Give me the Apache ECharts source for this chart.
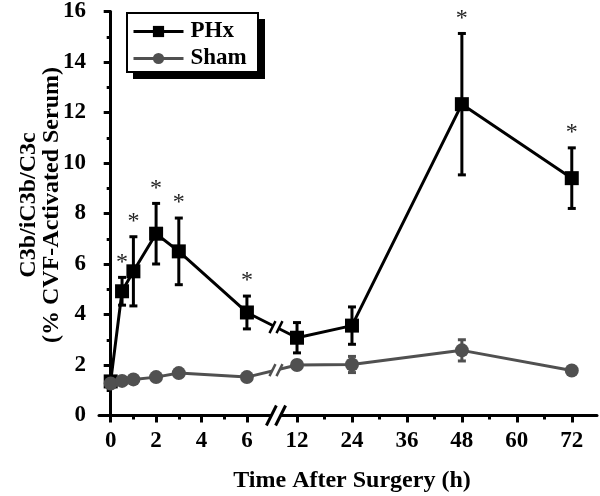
<!DOCTYPE html>
<html><head><meta charset="utf-8">
<script src="https://cdn.jsdelivr.net/npm/echarts@6/dist/echarts.min.js"></script>
<style>html,body{margin:0;padding:0;background:#fff}#c{width:600px;height:496px}</style>
</head><body><div id="c"></div>
<script>
// ---- data (hours after surgery) ----
const hours     = [0, 0.5, 1, 2, 3, 6, 12, 24, 48, 72];
const phxMean   = [1.35, 4.92, 5.71, 7.2, 6.5, 4.08, 3.08, 3.56, 12.33, 9.4];
const phxErr    = [0.1, 0.55, 1.37, 1.2, 1.32, 0.65, 0.6, 0.74, 2.8, 1.2];
const phxStar   = [0, 1, 1, 1, 1, 1, 0, 0, 1, 1];
const shamMean  = [1.27, 1.37, 1.43, 1.52, 1.68, 1.52, 2.0, 2.02, 2.58, 1.78];
const shamErr   = [0.08, 0.08, 0.08, 0.08, 0.08, 0.08, 0.15, 0.32, 0.42, 0.1];
const xTickHours  = [0, 2, 4, 6, 12, 24, 36, 48, 60, 72];
const xMinorHours = [1, 3, 5, 18, 30, 42, 54, 66];
const yTicks = [0, 2, 4, 6, 8, 10, 12, 14, 16];
const seriesNames = ['PHx', 'Sham'];
const breakHour = 7.28;

// ---- broken-axis scale: 0-6 h stretched, 12-72 h compressed ----
function pos(h) { return h <= breakHour ? h : 8.207 + (h - 12) * 0.2017; }

const FONT = "'Liberation Serif','Times New Roman',serif";
const BLACK = '#000000', GRAY = '#505050';

const chart = echarts.init(document.getElementById('c'));

function errData(mean, err) { return hours.map((h, i) => [pos(h), mean[i] - err[i], mean[i] + err[i]]); }
function lineData(mean) { return hours.map((h, i) => [pos(h), mean[i]]); }
function errRender(color) {
  return function (params, api) {
    const x = api.value(0), lo = api.value(1), hi = api.value(2);
    const a = api.coord([x, hi]), b = api.coord([x, lo]);
    const cw = 4, st = { stroke: color, lineWidth: 3 };
    return { type: 'group', children: [
      { type: 'line', shape: { x1: a[0], y1: a[1], x2: b[0], y2: b[1] }, style: st },
      { type: 'line', shape: { x1: a[0] - cw, y1: a[1], x2: a[0] + cw, y2: a[1] }, style: st },
      { type: 'line', shape: { x1: b[0] - cw, y1: b[1], x2: b[0] + cw, y2: b[1] }, style: st }
    ]};
  };
}
const starData = hours.map((h, i) => [pos(h), phxMean[i] + phxErr[i]]).filter((d, i) => phxStar[i]);

const tickPos = xTickHours.map(pos);
const minorPos = xMinorHours.map(pos);

chart.setOption({
  animation: false,
  backgroundColor: '#fff',
  grid: { left: 99, right: 3, top: 11.5, bottom: 80.5 },
  legend: {
    data: seriesNames, z: 10,
    orient: 'vertical', left: 132, top: 20,
    padding: 0, itemGap: 4, itemWidth: 50, itemHeight: 14,
    lineStyle: { width: 3 },
    textStyle: { fontFamily: FONT, fontWeight: 'bold', fontSize: 23, color: '#000', padding: [0, 0, 0, 2] }
  },
  xAxis: [{
    type: 'value', min: -0.515, max: 21.42,
    axisLine: { lineStyle: { color: '#000', width: 3 } },
    splitLine: { show: false },
    axisTick: { customValues: tickPos, length: 7, lineStyle: { color: '#000', width: 3 } },
    axisLabel: {
      customValues: tickPos, margin: 14,
      fontFamily: FONT, fontWeight: 'bold', fontSize: 23, color: '#000',
      formatter: v => { const k = tickPos.findIndex(p => Math.abs(p - v) < 1e-6); return k >= 0 ? String(xTickHours[k]) : ''; }
    }
  }, {
    type: 'value', min: -0.515, max: 21.42, position: 'bottom',
    axisLine: { show: false }, splitLine: { show: false }, axisLabel: { show: false },
    axisTick: { customValues: minorPos, length: 4, lineStyle: { color: '#000', width: 3 } }
  }],
  yAxis: {
    type: 'value', min: 0, max: 16, interval: 2,
    axisLine: { show: true, lineStyle: { color: '#000', width: 3 } },
    splitLine: { show: false },
    axisTick: { show: true, length: 7, lineStyle: { color: '#000', width: 3 } },
    minorTick: { show: true, splitNumber: 2, length: 4, lineStyle: { color: '#000', width: 3 } },
    axisLabel: { margin: 13, fontFamily: FONT, fontWeight: 'bold', fontSize: 23, color: '#000',
      formatter: v => yTicks.includes(v) ? String(v) : '' }
  },
  series: [
    { name: 'PHx err', type: 'custom', renderItem: errRender(BLACK), data: errData(phxMean, phxErr),
      encode: { x: 0, y: [1, 2] }, z: 2, silent: true },
    { name: seriesNames[0], type: 'line', data: lineData(phxMean), symbol: 'rect', symbolSize: 14,
      itemStyle: { color: BLACK }, lineStyle: { color: BLACK, width: 3 }, z: 3 },
    { name: 'Sham err', type: 'custom', renderItem: errRender(GRAY), data: errData(shamMean, shamErr),
      encode: { x: 0, y: [1, 2] }, z: 4, silent: true },
    { name: seriesNames[1], type: 'line', data: lineData(shamMean), symbol: 'circle', symbolSize: 14,
      itemStyle: { color: GRAY }, lineStyle: { color: GRAY, width: 3 }, z: 5 },
    { name: 'stars', type: 'custom', data: starData, encode: { x: 0, y: 1 }, z: 6, silent: true,
      renderItem: (params, api) => {
        const p = api.coord([api.value(0), api.value(1)]);
        return { type: 'text', x: p[0], y: p[1] - 27,
          style: { text: '*', align: 'center', verticalAlign: 'top', fill: '#222', font: `24px ${FONT}` } };
      } }
  ]
});

// ---- decorations: titles, legend frame, break marks computed from the scales ----
function decorations() {
  const g = [
    { type: 'text', x: 40, y: 205, rotation: Math.PI / 2,
      style: { text: 'C3b/iC3b/C3c\n(% CVF-Activated Serum)', align: 'center', verticalAlign: 'middle',
        lineHeight: 23, fill: '#000', font: `bold 24px ${FONT}` } },
    { type: 'text', x: 352, y: 481,
      style: { text: 'Time After Surgery (h)', align: 'center', verticalAlign: 'middle',
        fill: '#000', font: `bold 24px ${FONT}` } },
    { type: 'rect', z: 1, shape: { x: 133, y: 19, width: 132, height: 60 }, style: { fill: '#000' } },
    { type: 'rect', z: 2, shape: { x: 127, y: 13, width: 131, height: 59 }, style: { fill: '#fff', stroke: '#000', lineWidth: 2 } }
  ];
  const bp = pos(breakHour);
  const axisPt = chart.convertToPixel({ gridIndex: 0 }, [bp, 0]);
  const ax = axisPt[0], ay = axisPt[1];
  g.push({ type: 'polygon', shape: { points: [[ax - 9, ay + 10], [ax - 1, ay - 10], [ax + 9, ay - 10], [ax + 1, ay + 10]] },
    style: { fill: '#fff' }, z: 100 });
  [-4.6, 4.6].forEach(d => g.push({ type: 'line', z: 101,
    shape: { x1: ax + d - 5, y1: ay + 10, x2: ax + d + 5, y2: ay - 10 }, style: { stroke: '#000', lineWidth: 3 } }));
  const i6 = hours.indexOf(6), i12 = hours.indexOf(12);
  [[phxMean, BLACK], [shamMean, GRAY]].forEach(([m, col]) => {
    const a = chart.convertToPixel({ gridIndex: 0 }, [pos(6), m[i6]]);
    const b = chart.convertToPixel({ gridIndex: 0 }, [pos(12), m[i12]]);
    const t = (ax - a[0]) / (b[0] - a[0]);
    const y = a[1] + t * (b[1] - a[1]);
    g.push({ type: 'polygon', shape: { points: [[ax - 7, y + 6], [ax - 1, y - 6], [ax + 7, y - 6], [ax + 1, y + 6]] },
      style: { fill: '#fff' }, z: 100 });
    [-3.5, 3.5].forEach(d => g.push({ type: 'line', z: 101,
      shape: { x1: ax + d - 3, y1: y + 6, x2: ax + d + 3, y2: y - 6 }, style: { stroke: col, lineWidth: 2.5 } }));
  });
  return g;
}
chart.setOption({ graphic: { elements: decorations() } });
</script>
</body></html>
